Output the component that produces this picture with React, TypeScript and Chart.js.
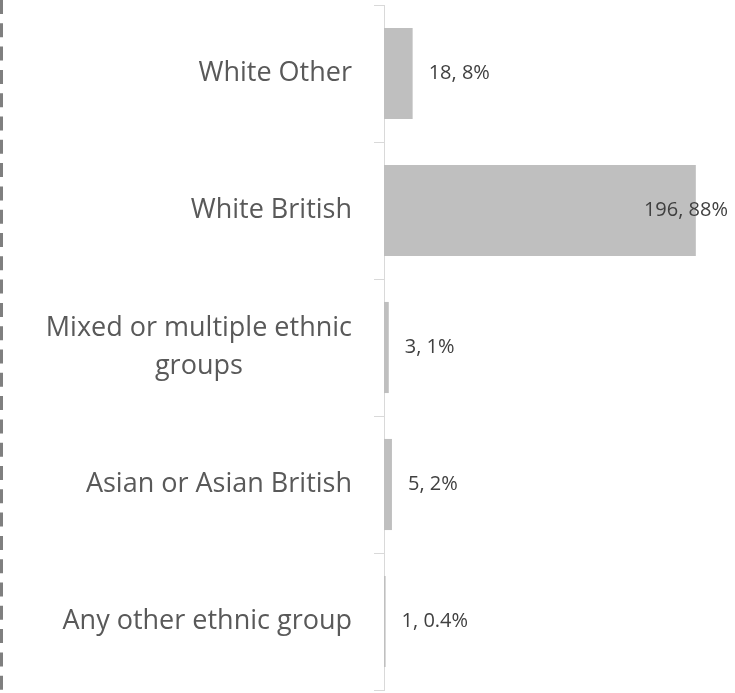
import React, { useEffect, useRef } from "react";
import { Chart, registerables } from "chart.js";

Chart.register(...registerables);

const categories: string[][] = [
  ["White Other"],
  ["White British"],
  ["Mixed or multiple ethnic", "groups"],
  ["Asian or Asian British"],
  ["Any other ethnic group"],
];
const counts = [18, 196, 3, 5, 1];
const percents = ["8%", "88%", "1%", "2%", "0.4%"];
const axisMax = 220;

const labelPlugin = {
  id: "customLabels",
  afterDatasetsDraw(chart: any) {
    const ctx = chart.ctx as CanvasRenderingContext2D;
    const yScale = chart.scales.y;
    const meta = chart.getDatasetMeta(0);
    ctx.save();
    // category labels
    ctx.font = "27px 'Open Sans'";
    ctx.fillStyle = "#595959";
    ctx.textBaseline = "middle";
    ctx.textAlign = "center";
    categories.forEach((lines, i) => {
      const cy = yScale.getPixelForValue(i);
      const w = Math.max(...lines.map((l) => ctx.measureText(l).width));
      const cx = yScale.right - 32 - w / 2;
      lines.forEach((l, j) => {
        ctx.fillText(l, cx, cy + (j - (lines.length - 1) / 2) * 38);
      });
    });
    // data labels
    ctx.font = "20px 'Open Sans'";
    ctx.fillStyle = "#404040";
    ctx.textAlign = "left";
    meta.data.forEach((bar: any, i: number) => {
      const t = `${counts[i]}, ${percents[i]}`;
      const w = ctx.measureText(t).width;
      const x = Math.min(bar.x + 16, chart.chartArea.right - 6 - w);
      ctx.fillText(t, x, bar.y);
    });
    // dashed left border
    ctx.strokeStyle = "#7f7f7f";
    ctx.lineWidth = 3;
    ctx.setLineDash([14, 9.3]);
    ctx.beginPath();
    ctx.moveTo(1.5, 0);
    ctx.lineTo(1.5, chart.height);
    ctx.stroke();
    ctx.restore();
  },
};

export default function App() {
  const ref = useRef<HTMLCanvasElement | null>(null);
  useEffect(() => {
    if (!ref.current) return;
    const chart = new Chart(ref.current, {
      type: "bar",
      data: {
        labels: categories.map((c) => c.join(" ")),
        datasets: [
          {
            data: counts,
            backgroundColor: "#bfbfbf",
            borderWidth: 0,
            barPercentage: 0.665,
            categoryPercentage: 1,
          },
        ],
      },
      options: {
        indexAxis: "y",
        responsive: false,
        animation: false,
        layout: { padding: { top: 5, bottom: 3, left: 0, right: 1 } },
        plugins: {
          legend: { display: false },
          tooltip: { enabled: false },
        },
        scales: {
          x: { display: false, min: 0, max: axisMax },
          y: {
            type: "category",
            grid: {
              offset: true,
              drawOnChartArea: false,
              color: "#d9d9d9",
              tickLength: 10,
            },
            border: { color: "#d9d9d9" },
            ticks: { display: false },
            afterFit: (s: any) => {
              s.width = 384;
            },
          },
        },
      },
      plugins: [labelPlugin],
    } as any);
    return () => chart.destroy();
  }, []);
  return (
    <div style={{ position: "fixed", left: 0, top: 0, width: 735, height: 693, background: "#fff" }}>
      <canvas ref={ref} width={735} height={693} />
    </div>
  );
}
